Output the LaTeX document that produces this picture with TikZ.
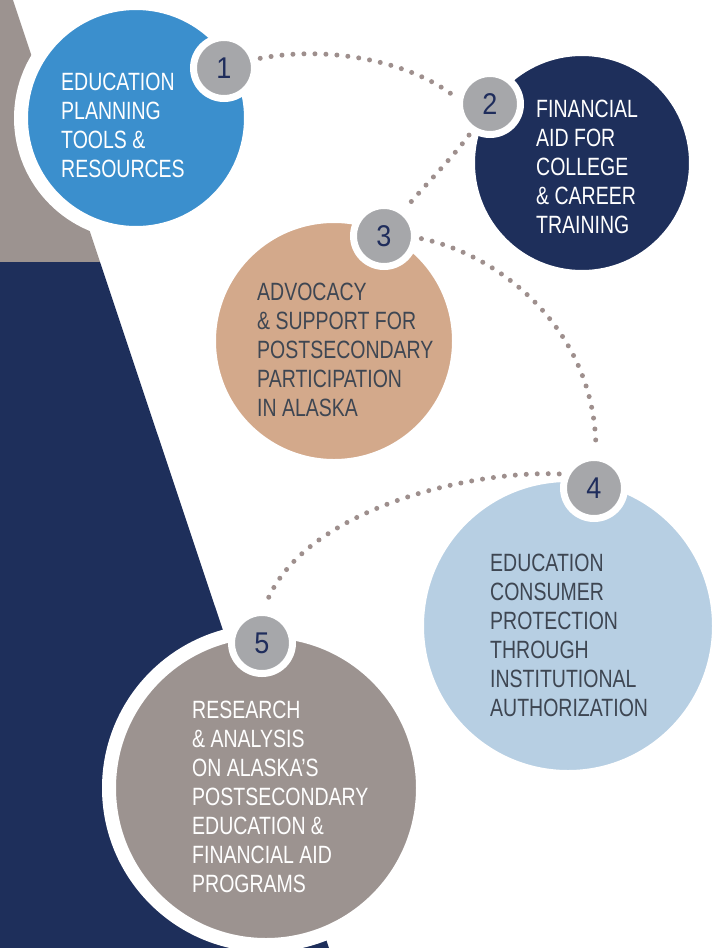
\documentclass[tikz,border=0pt]{standalone}
\usepackage{fontspec}
\setmainfont{Liberation Sans}[FakeStretch=0.78]
\newfontfamily\numfont{Liberation Sans}[FakeStretch=0.9]
\definecolor{cblue}{HTML}{3B8FCD}
\definecolor{cnavy}{HTML}{1E2F5B}
\definecolor{ctan}{HTML}{D3A98B}
\definecolor{clight}{HTML}{B7CFE3}
\definecolor{cgray}{HTML}{9C9390}
\definecolor{cbadge}{HTML}{A6A7AA}
\definecolor{cdot}{HTML}{9E8F8D}
\definecolor{ctext}{HTML}{3E4652}
\definecolor{cnum}{HTML}{1F2D5C}
\begin{document}
\begin{tikzpicture}[x=1pt,y=-1pt,
  bigc/.style={circle, inner sep=0pt, outer sep=0pt, draw=white, line width=14pt},
  badge/.style={circle, inner sep=0pt, outer sep=7pt, fill=cbadge, draw=white, line width=7pt,
     minimum size=61pt, font=\numfont\fontsize{30}{30}\selectfont, text=cnum},
  captxt/.style={anchor=base west, align=left, inner sep=0pt, font=\fontsize{25}{29}\selectfont},
  dots/.style={draw=cdot, line width=5pt, line cap=round, dash pattern=on 0pt off 11pt}]
\fill[white] (0,0) rectangle (718,948);
\useasboundingbox (0,0) rectangle (718,948);
% background shapes
\fill[cgray] (0,0) -- (13,0) -- (100,262) -- (0,262) -- cycle;
\fill[cnavy] (0,262) -- (100,262) -- (329,948) -- (0,948) -- cycle;
% big circles
\node[bigc, fill=cblue,  minimum size=230pt] (c1) at (136,118) {};
\node[bigc, fill=cnavy,  minimum size=228pt] (c2) at (582,163) {};
\node[bigc, fill=ctan,   minimum size=250pt] (c3) at (334,341) {};
\node[bigc, fill=clight, minimum size=302pt] (c4) at (568,626) {};
\node[bigc, fill=cgray,  minimum size=314pt] (c5) at (266,788) {};
% badges
\node[badge] (b1) at (224,68) {1};
\node[badge] (b2) at (490,104) {2};
\node[badge] (b3) at (384,236) {3};
\node[badge] (b4) at (594,488) {4};
\node[badge] (b5) at (262,643) {5};
% dotted connectors
\draw[dots] (b1.15) .. controls (330,45) and (410,62) .. (b2.167);
\draw[dots] (b2.236) .. controls (452,158) and (428,182) .. (b3.52);
\draw[dots] (b3.-4) .. controls (500,255) and (596,330) .. (b4.87);
\draw[dots] (b4.158) .. controls (470,470) and (300,510) .. (b5.85);
% texts (anchored at the baseline of their last line)
\node[captxt, text=white] (t1) at (61,177) {EDUCATION\\PLANNING\\TOOLS \&\\RESOURCES};
\node[captxt, text=white] (t2) at (536,233) {FINANCIAL\\AID FOR\\COLLEGE\\\& CAREER\\TRAINING};
\node[captxt, text=ctext] (t3) at (257,416) {ADVOCACY\\\& SUPPORT FOR\\POSTSECONDARY\\PARTICIPATION\\IN ALASKA};
\node[captxt, text=ctext] (t4) at (490,716) {EDUCATION\\CONSUMER\\PROTECTION\\THROUGH\\INSTITUTIONAL\\AUTHORIZATION};
\node[captxt, text=white] (t5) at (192,892) {RESEARCH\\\& ANALYSIS\\ON ALASKA’S\\POSTSECONDARY\\EDUCATION \&\\FINANCIAL AID\\PROGRAMS};
\end{tikzpicture}
\end{document}
